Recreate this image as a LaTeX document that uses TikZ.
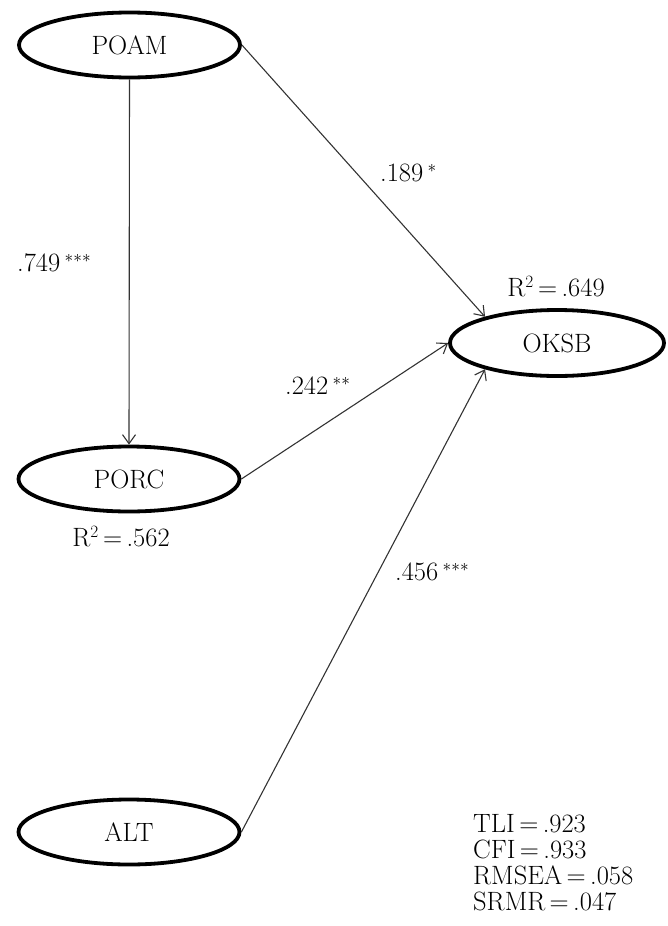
\documentclass[tikz,border=0pt]{standalone}
\usepackage{fontspec}
\setmainfont{Latin Modern Roman}
\usetikzlibrary{shapes.geometric,arrows.meta}
\begin{document}
\begin{tikzpicture}[x=1pt,y=-1pt,
  latent/.style={ellipse,draw=black,line width=3.8pt,minimum width=221pt,minimum height=65pt,inner sep=0pt,font=\fontsize{26.5}{28}\selectfont},
  path/.style={draw=black!80,line width=1.1pt,-{Straight Barb[length=9pt,width=13pt,line width=1.1pt]}},
  lbl/.style={inner sep=0pt,font=\fontsize{26.5}{26}\selectfont}]
\useasboundingbox (0,0) rectangle (667,926);
\node[latent] (poam) at (129.5,45) {POAM};
\node[latent] (porc) at (129,479) {PORC};
\node[latent] (alt) at (129,832) {ALT};
\node[latent,minimum width=214pt,minimum height=66pt] (oksb) at (557,343) {OKSB};
\draw[path] (poam.south) -- (porc.north);
\draw[path] (poam.east) -- (oksb.160);
\draw[path] (porc.east) -- (oksb.west);
\draw[path] (alt.east) -- (oksb.200);
\node[lbl,anchor=west] (l749) at (17,263) {.749\,$^{***}$};
\node[lbl,anchor=west] (l189) at (380,173) {.189\,$^{*}$};
\node[lbl,anchor=west] (l242) at (285,386) {.242\,$^{**}$};
\node[lbl,anchor=west] (l456) at (395,572) {.456\,$^{***}$};
\node[lbl] (r649) at (556,287) {R$^2$\,=\,.649};
\node[lbl] (r562) at (121,537) {R$^2$\,=\,.562};
\node[lbl,anchor=north west,align=left] (fit) at (473,814) {TLI\,=\,.923\\CFI\,=\,.933\\RMSEA\,=\,.058\\SRMR\,=\,.047};
\end{tikzpicture}
\end{document}
